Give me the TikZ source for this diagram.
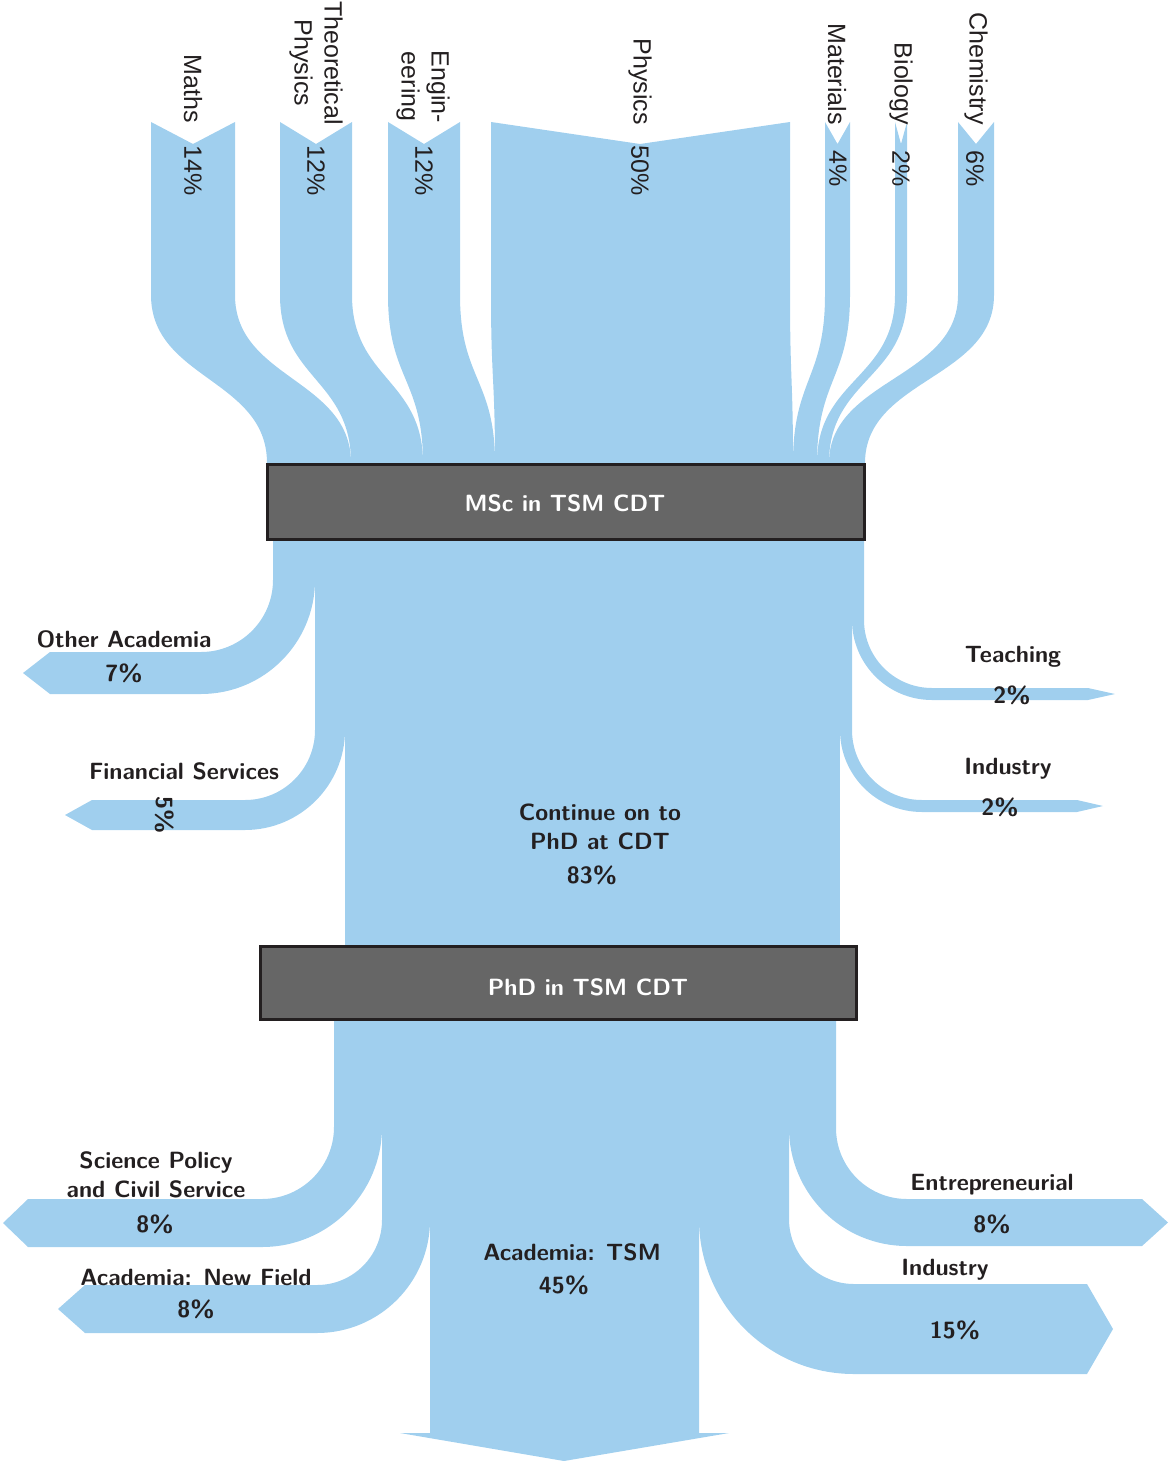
\documentclass[tikz,border=0pt]{standalone}
\usepackage{fontspec}
\newfontfamily\toplabfont{Liberation Sans}
\definecolor{flow}{RGB}{160,207,238}
\definecolor{boxfill}{RGB}{102,102,102}
\definecolor{boxline}{RGB}{35,31,32}
\definecolor{ink}{RGB}{35,31,32}
\tikzset{
  flowfill/.style={fill=flow,draw=none},
  srclab/.style={font=\toplabfont\fontsize{25}{30}\selectfont,text=ink,rotate=-90,inner sep=0pt,align=center},
  lab/.style={font=\sffamily\bfseries\fontsize{23.5}{29}\selectfont,text=ink,inner sep=0pt,align=center},
  stagebox/.style={draw=boxline,line width=3pt,fill=boxfill},
  stagetext/.style={font=\sffamily\bfseries\fontsize{23.5}{28}\selectfont,text=white,inner sep=0pt}
}
% top source flow: #1 top-left x, #2 top-right x, #3 bottom-left x, #4 bottom-right x, #5 notch x
\newcommand\srcflow[5]{%
  \fill[flowfill] (#1,122) -- (#5,144) -- (#2,122) -- (#2,295) .. controls (#2,379) and (#4,379) .. (#4,463) -- (#4,467) -- (#3,467) -- (#3,463) .. controls (#3,379) and (#1,379) .. (#1,295) -- cycle;}
% left turning branch: #1 ys, #2 outer x, #3 inner x, #4 yA, #5 outer radius, #6 notch x, #7 tip x
\newcommand\leftbranch[7]{%
  \pgfmathsetmacro\flW{#3-#2}%
  \pgfmathsetmacro\flRi{#5+\flW}%
  \pgfmathsetmacro\flCx{#2-#5}%
  \pgfmathsetmacro\flYt{#4+#5}%
  \pgfmathsetmacro\flYb{#4+\flRi}%
  \pgfmathsetmacro\flYm{(\flYt+\flYb)/2}%
  \pgfmathsetmacro\flKo{0.5523*#5}%
  \pgfmathsetmacro\flKi{0.5523*\flRi}%
  \fill[flowfill] (#2,#1) -- (#2,#4) .. controls (#2,#4+\flKo) and (\flCx+\flKo,\flYt) .. (\flCx,\flYt) -- (#6,\flYt) -- (#7,\flYm) -- (#6,\flYb) -- (\flCx,\flYb) .. controls (\flCx+\flKi,\flYb) and (#3,#4+\flKi) .. (#3,#4) -- (#3,#1) -- cycle;}
% right turning branch: #1 ys, #2 west x, #3 east x, #4 yA, #5 inner radius, #6 notch x, #7 tip x
\newcommand\rightbranch[7]{%
  \pgfmathsetmacro\flW{#3-#2}%
  \pgfmathsetmacro\flRo{#5+\flW}%
  \pgfmathsetmacro\flCx{#3+#5}%
  \pgfmathsetmacro\flYt{#4+#5}%
  \pgfmathsetmacro\flYb{#4+\flRo}%
  \pgfmathsetmacro\flYm{(\flYt+\flYb)/2}%
  \pgfmathsetmacro\flKi{0.5523*#5}%
  \pgfmathsetmacro\flKo{0.5523*\flRo}%
  \fill[flowfill] (#3,#1) -- (#3,#4) .. controls (#3,#4+\flKi) and (\flCx-\flKi,\flYt) .. (\flCx,\flYt) -- (#6,\flYt) -- (#7,\flYm) -- (#6,\flYb) -- (\flCx,\flYb) .. controls (\flCx-\flKo,\flYb) and (#2,#4+\flKo) .. (#2,#4) -- (#2,#1) -- cycle;}
\begin{document}
\begin{tikzpicture}[x=1pt,y=-1pt]
\useasboundingbox (0,0) rectangle (1174,1461);
% ---- source flows
\srcflow{151}{235}{267}{351}{193}
\srcflow{280}{352}{351}{423}{316}
\srcflow{388}{460}{423}{495}{424}
\srcflow{491}{790}{495}{793}{640}
\srcflow{825}{850}{793}{817}{837.5}
\srcflow{895}{907}{817}{829}{901}
\srcflow{958}{994}{829}{865}{976}
% ---- after MSc
\leftbranch{538}{273}{315}{580}{72}{50}{23}
\leftbranch{538}{315}{345}{730}{70}{92}{65}
\rightbranch{538}{852}{864}{620}{68}{1088}{1115}
\rightbranch{538}{840}{852}{730}{70}{1077}{1103}
\fill[flowfill] (345,538) rectangle (840,948);
% ---- after PhD
\leftbranch{1018}{334}{382}{1127}{72}{28}{3}
\leftbranch{1018}{382}{430}{1220}{65}{85}{58}
\fill[flowfill] (430,1018) -- (430,1433) -- (400,1433) -- (564,1461) -- (729,1433) -- (699,1433) -- (699,1018) -- cycle;
\rightbranch{1018}{699}{789}{1219}{65}{1087}{1113}
\rightbranch{1018}{789}{836}{1128}{71}{1142}{1168}
% ---- stage boxes
\node[stagebox,minimum width=597pt,minimum height=75pt,inner sep=0pt] (msc) at (566,502) {};
\node[stagetext] (msctext) at (565,503) {MSc in TSM CDT};
\node[stagebox,minimum width=596pt,minimum height=73pt,inner sep=0pt] (phd) at (558.5,983) {};
\node[stagetext] (phdtext) at (588,987) {PhD in TSM CDT};
% ---- source labels
\node[srclab,anchor=east] (lmaths) at (193,123) {Maths};
\node[srclab,anchor=east] (ltheo) at (316,125) {Theoretical\\Physics};
\node[srclab,anchor=east] (leng) at (423,123) {Engin-\\eering};
\node[srclab,anchor=east] (lphys) at (640,125) {Physics};
\node[srclab,anchor=east] (lmat) at (837,125) {Materials};
\node[srclab,anchor=east] (lbio) at (901,125) {Biology};
\node[srclab,anchor=east] (lchem) at (976,125) {Chemistry};
\node[srclab] (pmaths) at (193,171) {14\%};
\node[srclab] (ptheo) at (316,171) {12\%};
\node[srclab] (peng) at (424,171) {12\%};
\node[srclab] (pphys) at (640,171) {50\%};
\node[srclab] (pmat) at (838,169) {4\%};
\node[srclab] (pbio) at (901,169) {2\%};
\node[srclab] (pchem) at (975,169) {6\%};
% ---- outcome labels
\node[lab] (lother) at (124,639) {Other Academia};
\node[lab] (pother) at (124,673) {7\%};
\node[lab] (lfin) at (184,771) {Financial Services};
\node[lab,rotate=-90] (pfin) at (165,815) {5\%};
\node[lab] (lteach) at (1013,657) {Teaching};
\node[lab] (pteach) at (1012,695) {2\%};
\node[lab] (lind1) at (1008,769) {Industry};
\node[lab] (pind1) at (1000,807) {2\%};
\node[lab] (lcont) at (600,827) {Continue on to\\PhD at CDT};
\node[lab] (pcont) at (592,875) {83\%};
\node[lab] (lsci) at (156,1175) {Science Policy\\and Civil Service};
\node[lab] (psci) at (155,1224) {8\%};
\node[lab] (lnew) at (196,1277) {Academia: New Field};
\node[lab] (pnew) at (196,1309) {8\%};
\node[lab] (ltsm) at (572,1252) {Academia: TSM};
\node[lab] (ptsm) at (564,1285) {45\%};
\node[lab] (lent) at (992,1185) {Entrepreneurial};
\node[lab] (pent) at (992,1224) {8\%};
\node[lab] (lind2) at (945,1270) {Industry};
\node[lab] (pind2) at (955,1330) {15\%};
\end{tikzpicture}
\end{document}
